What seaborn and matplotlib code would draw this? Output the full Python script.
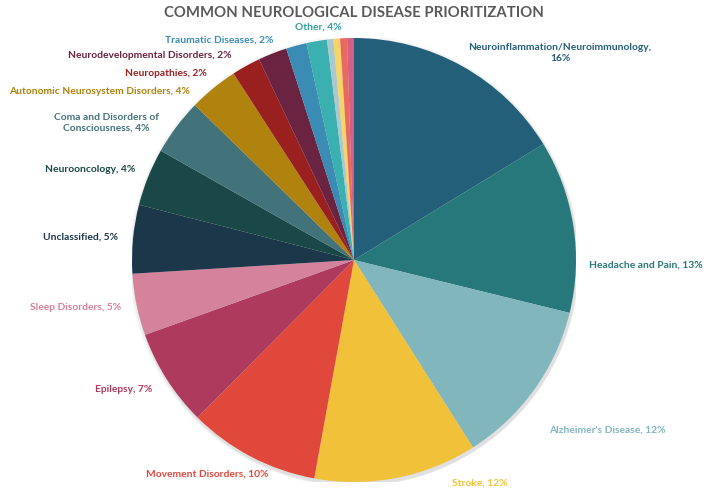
import matplotlib
matplotlib.use("Agg")
import matplotlib.pyplot as plt
import seaborn as sns

# slice values (clockwise from 12 o'clock)
categories = ["Neuroinflammation/Neuroimmunology", "Headache and Pain", "Alzheimer's Disease",
              "Stroke", "Movement Disorders", "Epilepsy", "Sleep Disorders", "Unclassified",
              "Neurooncology", "Coma and Disorders of Consciousness", "Autonomic Neurosystem Disorders",
              "Neuropathies", "Neurodevelopmental Disorders", "Traumatic Diseases", "Other",
              "small_a", "small_b", "small_c", "small_d"]
values = [16.3, 12.6, 12.2, 11.9, 9.6, 7.1, 4.5, 5.0, 4.2, 4.1, 3.6, 2.1, 2.1, 1.5, 1.5,
          0.45, 0.5, 0.5, 0.5]
shown_pct = [16, 13, 12, 12, 10, 7, 5, 5, 4, 4, 4, 2, 2, 2, 4, None, None, None, None]

slice_colors = ["#245F7A", "#26787A", "#82B6BD", "#F2C13A", "#E0483C", "#AE3A5E", "#D5829C",
                "#1C364A", "#1A4848", "#43737A", "#B0830F", "#9A2020", "#6A2340", "#3A8CB5",
                "#3AB0B0", "#A9C8CF", "#F5D469", "#E86A5E", "#D45F85"]
label_colors = ["#245F7A", "#26787A", "#82B6BD", "#F2C13A", "#E0483C", "#AE3A5E", "#D5829C",
                "#1C364A", "#1A4848", "#43737A", "#B0830F", "#9A2020", "#6A2340", "#3A8CB5",
                "#2F9E9E"]

# label placement in pixels (x, y, ha) and line breaks
label_text = ["Neuroinflammation/Neuroimmunology,\n16%", "Headache and Pain, 13%",
              "Alzheimer's Disease, 12%", "Stroke, 12%", "Movement Disorders, 10%",
              "Epilepsy, 7%", "Sleep Disorders, 5%", "Unclassified, 5%", "Neurooncology, 4%",
              "Coma and Disorders of\nConsciousness, 4%", "Autonomic Neurosystem Disorders, 4%",
              "Neuropathies, 2%", "Neurodevelopmental Disorders, 2%", "Traumatic Diseases, 2%",
              "Other, 4%"]
label_pos = [(560, 53, "center"), (703, 265, "right"), (549, 430, "left"), (452, 483, "left"),
             (268, 474, "right"), (152, 390, "right"), (121, 308, "right"), (118, 237, "right"),
             (135, 170, "right"), (106, 123, "center"), (190, 92, "right"), (207, 73, "right"),
             (232, 56, "right"), (273, 40, "right"), (318, 27, "center")]

sns.set_theme(style="white")
plt.rcParams['font.family'] = ['Lato', 'DejaVu Sans']

W, H = 709, 491
cx, cy, R = 354, 260, 222
fig = plt.figure(figsize=(W / 100, H / 100), dpi=100)
ax = fig.add_axes([(cx - R) / W, (H - cy - R) / H, 2 * R / W, 2 * R / H])

palette = sns.color_palette(slice_colors)

# soft shadow behind the pie
for i, a in enumerate([0.03, 0.04, 0.05]):
    ax.add_patch(plt.Circle((0.003 * i, -0.005 - 0.003 * i), 1.0 + 0.005 * (3 - i),
                            color="#000000", alpha=a, lw=0, zorder=0))

ax.pie(values, colors=palette, startangle=90, counterclock=False, radius=1.0,
       wedgeprops=dict(linewidth=0, zorder=2))
ax.set_xlim(-1, 1)
ax.set_ylim(-1, 1)
ax.set_aspect("equal")
ax.axis("off")

for txt, (px, py, ha), col in zip(label_text, label_pos, label_colors):
    ax.text((px - cx) / R, (cy - py) / R, txt, ha=ha, va="center", color=col,
            fontsize=7.4, fontweight="bold", linespacing=1.25, clip_on=False)

fig.text(cx / W, 1 - 13 / H, "COMMON NEUROLOGICAL DISEASE PRIORITIZATION", ha="center",
         va="center", fontsize=10.7, fontweight="bold", color="#595959")

fig.savefig("out.png", dpi=100)
